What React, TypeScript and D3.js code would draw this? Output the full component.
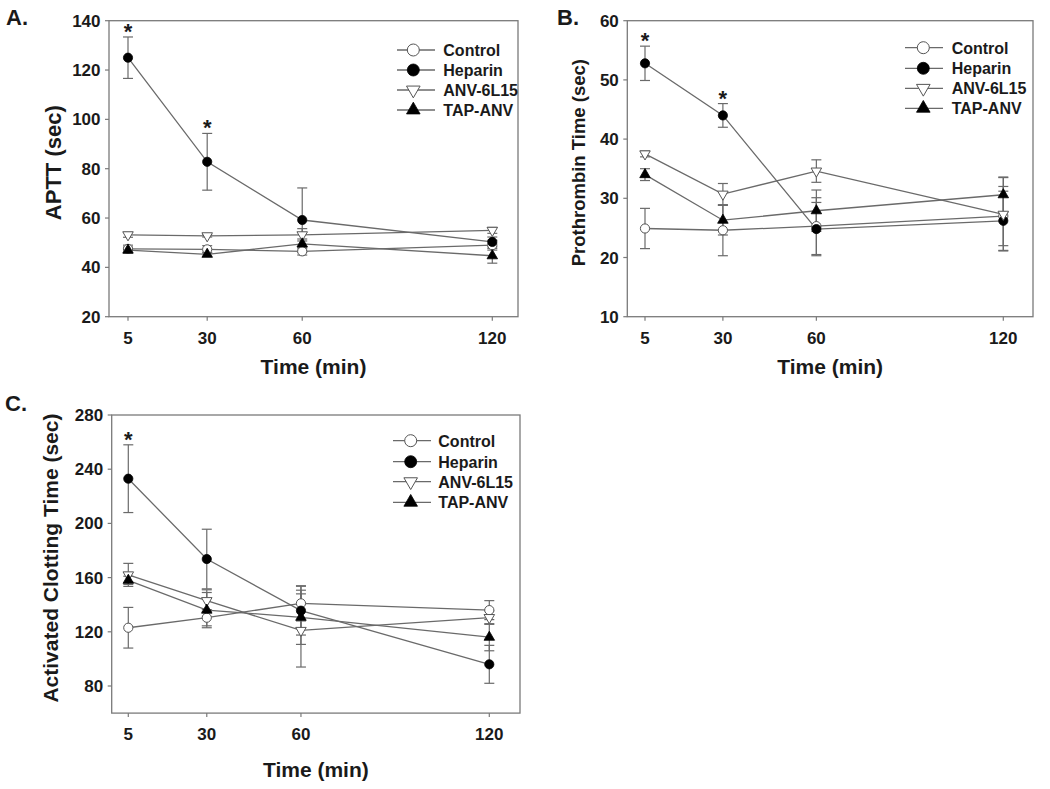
import React from "react";
import * as d3 from "d3";

const times = [5, 30, 60, 120];
const seriesNames = ["Control", "Heparin", "ANV-6L15", "TAP-ANV"];

// Panel A – APTT
const controlA = [47.5, 47.3, 46.5, 49.0];
const controlAErr = [1.5, 1.5, 1.5, 2.0];
const heparinA = [125, 82.8, 59.2, 50.3];
const heparinAErr = [8.4, 11.5, 13, 2];
const anvA = [53.2, 52.8, 53.2, 55];
const anvAErr = [1, 0.5, 2.5, 1.2];
const tapA = [47.0, 45.3, 49.5, 44.7];
const tapAErr = [1.2, 0.8, 2, 3];
const yTicksA = [20, 40, 60, 80, 100, 120, 140];
const starsA = [5, 30];

// Panel B – Prothrombin time
const controlB = [24.9, 24.6, 25.3, 27.0];
const controlBErr = [3.4, 4.3, 4.8, 5];
const heparinB = [52.8, 44.0, 24.8, 26.2];
const heparinBErr = [2.9, 2.0, 4.5, 5];
const anvB = [37.5, 30.7, 34.6, 27.3];
const anvBErr = [0.5, 1.8, 1.9, 6.2];
const tapB = [34.0, 26.3, 27.9, 30.6];
const tapBErr = [1.0, 2.5, 3.5, 3.0];
const yTicksB = [10, 20, 30, 40, 50, 60];
const starsB = [5, 30];

// Panel C – Activated clotting time
const controlC = [123, 130.4, 141, 136];
const controlCErr = [15, 6, 13, 7];
const heparinC = [233, 173.7, 135.6, 96];
const heparinCErr = [25, 22, 18, 14];
const anvC = [162, 143, 121, 130.5];
const anvCErr = [8.5, 8, 27, 5];
const tapC = [158, 136, 130.7, 116];
const tapCErr = [3, 13, 20, 10];
const yTicksC = [80, 120, 160, 200, 240, 280];
const starsC = [5];

type Series = { name: string; values: number[]; errs: number[] };

type PanelCfg = {
  label: string;
  labelX: number;
  labelY: number;
  box: [number, number, number, number]; // left, top, right, bottom
  x5: number;
  x120: number;
  yDomain: [number, number];
  yTicks: number[];
  yTitle: string;
  yTitleSize: number;
  yTitleX: number;
  xTitleY: number;
  series: Series[];
  stars: number[];
  legend: { lineL: number; lineR: number; mx: number; tx: number; rows: number[] };
};

const mk = (v: number[][], e: number[][]): Series[] =>
  seriesNames.map((n, i) => ({ name: n, values: v[i], errs: e[i] }));

const panels: PanelCfg[] = [
  {
    label: "A.",
    labelX: 6,
    labelY: 25,
    box: [109, 20.7, 518, 316.7],
    x5: 128,
    x120: 492.3,
    yDomain: [20, 140],
    yTicks: yTicksA,
    yTitle: "APTT (sec)",
    yTitleSize: 22,
    yTitleX: 61,
    xTitleY: 374,
    series: mk([controlA, heparinA, anvA, tapA], [controlAErr, heparinAErr, anvAErr, tapAErr]),
    stars: starsA,
    legend: { lineL: 397, lineR: 435, mx: 413.3, tx: 443.3, rows: [50, 70, 90, 110] },
  },
  {
    label: "B.",
    labelX: 557,
    labelY: 25,
    box: [627.3, 20.7, 1033, 316.7],
    x5: 645,
    x120: 1003.3,
    yDomain: [10, 60],
    yTicks: yTicksB,
    yTitle: "Prothrombin Time (sec)",
    yTitleSize: 18.5,
    yTitleX: 585,
    xTitleY: 374,
    series: mk([controlB, heparinB, anvB, tapB], [controlBErr, heparinBErr, anvBErr, tapBErr]),
    stars: starsB,
    legend: { lineL: 905, lineR: 943, mx: 923.3, tx: 951.7, rows: [47.7, 68.3, 88.3, 108.3] },
  },
  {
    label: "C.",
    labelX: 5,
    labelY: 411,
    box: [111.7, 415, 520, 713.1],
    x5: 128.3,
    x120: 489.3,
    yDomain: [60, 280],
    yTicks: yTicksC,
    yTitle: "Activated Clotting Time (sec)",
    yTitleSize: 21,
    yTitleX: 58,
    xTitleY: 776.5,
    series: mk([controlC, heparinC, anvC, tapC], [controlCErr, heparinCErr, anvCErr, tapCErr]),
    stars: starsC,
    legend: { lineL: 393, lineR: 431, mx: 410.7, tx: 438.3, rows: [440.7, 461.7, 481.7, 502.3] },
  },
];

const FONT = "'Liberation Sans', Arial, sans-serif";
const LINE = "#6a6a6a";
const AXIS = "#7a7a7a";
const TEXT = "#1a1a1a";

function Marker({ kind, x, y, big }: { kind: number; x: number; y: number; big?: boolean }) {
  const r = big ? 6 : 4.6;
  if (kind === 0)
    return <circle cx={x} cy={y} r={r} fill="#fff" stroke="#555" strokeWidth={1} />;
  if (kind === 1) return <circle cx={x} cy={y} r={r} fill="#000" stroke="#000" strokeWidth={0.8} />;
  const size = big ? 80 : 48;
  const path = d3.symbol().type(d3.symbolTriangle).size(size)() || "";
  if (kind === 2)
    return (
      <path
        d={path}
        transform={`translate(${x},${y}) rotate(180)`}
        fill="#fff"
        stroke="#555"
        strokeWidth={1}
      />
    );
  return <path d={path} transform={`translate(${x},${y})`} fill="#000" stroke="#000" strokeWidth={0.8} />;
}

function Panel({ cfg }: { cfg: PanelCfg }) {
  const [L, T, R, B] = cfg.box;
  const x = d3.scaleLinear().domain([5, 120]).range([cfg.x5, cfg.x120]);
  const y = d3.scaleLinear().domain(cfg.yDomain).range([B, T]);
  const line = d3
    .line<number>()
    .x((_, i) => x(times[i]))
    .y((d) => y(d));
  const cx = (L + R) / 2;
  const cy = (T + B) / 2;
  return (
    <g>
      <text x={cfg.labelX} y={cfg.labelY} fontFamily={FONT} fontWeight="bold" fontSize={22} fill={TEXT}>
        {cfg.label}
      </text>
      <rect x={L} y={T} width={R - L} height={B - T} fill="none" stroke={AXIS} strokeWidth={1.3} />
      {cfg.yTicks.map((t) => (
        <g key={"y" + t}>
          <line x1={L - 4} x2={L} y1={y(t)} y2={y(t)} stroke={AXIS} strokeWidth={1.2} />
          <text
            x={L - 8.5}
            y={y(t) + 6}
            textAnchor="end"
            fontFamily={FONT}
            fontWeight="bold"
            fontSize={17}
            fill={TEXT}
          >
            {t}
          </text>
        </g>
      ))}
      {times.map((t) => (
        <g key={"x" + t}>
          <line x1={x(t)} x2={x(t)} y1={B} y2={B + 4} stroke={AXIS} strokeWidth={1.2} />
          <text
            x={x(t)}
            y={B + 27}
            textAnchor="middle"
            fontFamily={FONT}
            fontWeight="bold"
            fontSize={17}
            fill={TEXT}
          >
            {t}
          </text>
        </g>
      ))}
      <text
        x={cx}
        y={cfg.xTitleY}
        textAnchor="middle"
        fontFamily={FONT}
        fontWeight="bold"
        fontSize={21}
        fill={TEXT}
      >
        Time (min)
      </text>
      <text
        transform={`translate(${cfg.yTitleX},${cy - 6}) rotate(-90)`}
        textAnchor="middle"
        fontFamily={FONT}
        fontWeight="bold"
        fontSize={cfg.yTitleSize}
        fill={TEXT}
      >
        {cfg.yTitle}
      </text>
      {cfg.series.map((s, si) => (
        <path key={"l" + si} d={line(s.values) || ""} fill="none" stroke={LINE} strokeWidth={1.3} />
      ))}
      {cfg.series.map((s, si) =>
        s.values.map((v, i) => {
          const px = x(times[i]);
          const top = y(v + s.errs[i]);
          const bot = y(v - s.errs[i]);
          return (
            <g key={"e" + si + "-" + i} stroke={LINE} strokeWidth={1.2}>
              <line x1={px} x2={px} y1={top} y2={bot} />
              <line x1={px - 5} x2={px + 5} y1={top} y2={top} />
              <line x1={px - 5} x2={px + 5} y1={bot} y2={bot} />
            </g>
          );
        })
      )}
      {cfg.series.map((s, si) =>
        s.values.map((v, i) => <Marker key={"m" + si + "-" + i} kind={si} x={x(times[i])} y={y(v)} />)
      )}
      {cfg.stars.map((t) => {
        const i = times.indexOf(t);
        const hep = cfg.series[1];
        return (
          <text
            key={"s" + t}
            x={x(t)}
            y={y(hep.values[i] + hep.errs[i]) + 2}
            textAnchor="middle"
            fontFamily={FONT}
            fontWeight="bold"
            fontSize={22}
            fill={TEXT}
          >
            *
          </text>
        );
      })}
      {cfg.series.map((s, si) => {
        const ry = cfg.legend.rows[si];
        return (
          <g key={"lg" + si}>
            <line x1={cfg.legend.lineL} x2={cfg.legend.lineR} y1={ry} y2={ry} stroke={LINE} strokeWidth={1.3} />
            <Marker kind={si} x={cfg.legend.mx} y={ry} big />
            <text
              x={cfg.legend.tx}
              y={ry + 5.8}
              fontFamily={FONT}
              fontWeight="bold"
              fontSize={16}
              fill={TEXT}
            >
              {s.name}
            </text>
          </g>
        );
      })}
    </g>
  );
}

export default function App() {
  return (
    <svg
      width={1050}
      height={789}
      style={{ position: "absolute", left: 0, top: 0, background: "#fff" }}
    >
      <rect x={0} y={0} width={1050} height={789} fill="#fff" />
      {panels.map((p) => (
        <Panel key={p.label} cfg={p} />
      ))}
    </svg>
  );
}
